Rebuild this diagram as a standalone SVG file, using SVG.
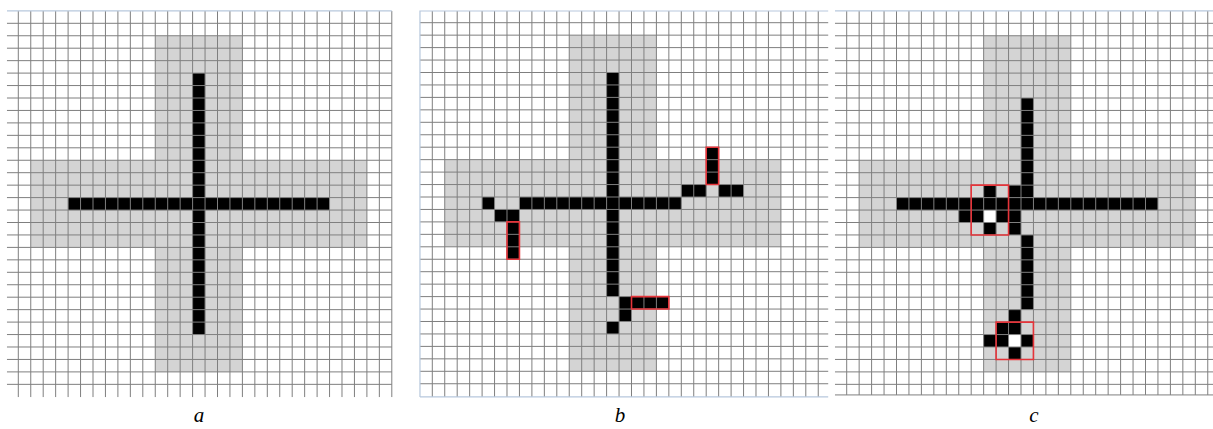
<svg xmlns="http://www.w3.org/2000/svg" width="1213" height="429" viewBox="0 0 1213 429">
<style>
.bg{fill:#ffffff}
.gray{fill:#d4d4d4}
.blk{fill:#000000}
.wht{fill:#ffffff}
.grid{stroke:#7f7f7f;stroke-width:1;fill:none;vector-effect:non-scaling-stroke}
.border{stroke:#b7c8dd;stroke-width:1.2;fill:none;vector-effect:non-scaling-stroke}
.red{stroke:#e5343a;stroke-width:1.6;fill:none;vector-effect:non-scaling-stroke}
.lbl{font-family:"Liberation Serif","Times New Roman",serif;font-style:italic;font-size:21px;fill:#000;text-anchor:middle}
</style>
<rect x="0" y="0" width="1213" height="429" class="bg"/>

<!-- Panel a -->
<g id="panel-a" transform="translate(18.3 23.3) scale(12.45)">
  <rect class="gray" x="11" y="1" width="7" height="27"/>
  <rect class="gray" x="1" y="11" width="27" height="7"/>
  <rect class="blk" x="14" y="4" width="1" height="21"/>
  <rect class="blk" x="4" y="14" width="21" height="1"/>
  <path class="grid" d="M0 -0.99V30.02M1 -0.99V30.02M2 -0.99V30.02M3 -0.99V30.02M4 -0.99V30.02M5 -0.99V30.02M6 -0.99V30.02M7 -0.99V30.02M8 -0.99V30.02M9 -0.99V30.02M10 -0.99V30.02M11 -0.99V30.02M12 -0.99V30.02M13 -0.99V30.02M14 -0.99V30.02M15 -0.99V30.02M16 -0.99V30.02M17 -0.99V30.02M18 -0.99V30.02M19 -0.99V30.02M20 -0.99V30.02M21 -0.99V30.02M22 -0.99V30.02M23 -0.99V30.02M24 -0.99V30.02M25 -0.99V30.02M26 -0.99V30.02M27 -0.99V30.02M28 -0.99V30.02M29 -0.99V30.02M30 -0.99V30.02M-0.91 0H30M-0.91 1H30M-0.91 2H30M-0.91 3H30M-0.91 4H30M-0.91 5H30M-0.91 6H30M-0.91 7H30M-0.91 8H30M-0.91 9H30M-0.91 10H30M-0.91 11H30M-0.91 12H30M-0.91 13H30M-0.91 14H30M-0.91 15H30M-0.91 16H30M-0.91 17H30M-0.91 18H30M-0.91 19H30M-0.91 20H30M-0.91 21H30M-0.91 22H30M-0.91 23H30M-0.91 24H30M-0.91 25H30M-0.91 26H30M-0.91 27H30M-0.91 28H30M-0.91 29H30"/>
  <path class="border" d="M-0.91 -0.99H30"/>
</g>

<!-- Panel b -->
<g id="panel-b" transform="translate(432.3 22.7) scale(12.45)">
  <rect class="gray" x="11" y="1" width="7" height="27"/>
  <rect class="gray" x="1" y="11" width="27" height="7"/>
  <rect class="blk" x="14" y="4" width="1" height="18"/>
  <rect class="blk" x="7" y="14" width="13" height="1"/>
  <rect class="blk" x="4" y="14" width="1" height="1"/>
  <rect class="blk" x="5" y="15" width="2" height="1"/>
  <rect class="blk" x="6" y="16" width="1" height="3"/>
  <rect class="blk" x="20" y="13" width="2" height="1"/>
  <rect class="blk" x="23" y="13" width="2" height="1"/>
  <rect class="blk" x="22" y="10" width="1" height="3"/>
  <rect class="blk" x="15" y="22" width="4" height="1"/>
  <rect class="blk" x="15" y="23" width="1" height="1"/>
  <rect class="blk" x="14" y="24" width="1" height="1"/>
  <path class="grid" d="M0 -0.94V30.06M1 -0.94V30.06M2 -0.94V30.06M3 -0.94V30.06M4 -0.94V30.06M5 -0.94V30.06M6 -0.94V30.06M7 -0.94V30.06M8 -0.94V30.06M9 -0.94V30.06M10 -0.94V30.06M11 -0.94V30.06M12 -0.94V30.06M13 -0.94V30.06M14 -0.94V30.06M15 -0.94V30.06M16 -0.94V30.06M17 -0.94V30.06M18 -0.94V30.06M19 -0.94V30.06M20 -0.94V30.06M21 -0.94V30.06M22 -0.94V30.06M23 -0.94V30.06M24 -0.94V30.06M25 -0.94V30.06M26 -0.94V30.06M27 -0.94V30.06M28 -0.94V30.06M29 -0.94V30.06M30 -0.94V30.06M31 -0.94V30.06M-0.99 0H31.8M-0.99 1H31.8M-0.99 2H31.8M-0.99 3H31.8M-0.99 4H31.8M-0.99 5H31.8M-0.99 6H31.8M-0.99 7H31.8M-0.99 8H31.8M-0.99 9H31.8M-0.99 10H31.8M-0.99 11H31.8M-0.99 12H31.8M-0.99 13H31.8M-0.99 14H31.8M-0.99 15H31.8M-0.99 16H31.8M-0.99 17H31.8M-0.99 18H31.8M-0.99 19H31.8M-0.99 20H31.8M-0.99 21H31.8M-0.99 22H31.8M-0.99 23H31.8M-0.99 24H31.8M-0.99 25H31.8M-0.99 26H31.8M-0.99 27H31.8M-0.99 28H31.8M-0.99 29H31.8"/>
  <path class="border" d="M-0.99 30.06V-0.94H31.8M-0.99 30.06H31.8"/>
  <rect class="red" x="6" y="16" width="1" height="3"/>
  <rect class="red" x="22" y="10" width="1" height="3"/>
  <rect class="red" x="16" y="22" width="3" height="1"/>
</g>

<!-- Panel c -->
<g id="panel-c" transform="translate(846.7 23.3) scale(12.45)">
  <rect class="gray" x="11" y="1" width="7" height="27"/>
  <rect class="gray" x="1" y="11" width="27" height="7"/>
  <rect class="blk" x="14" y="6" width="1" height="8"/>
  <rect class="blk" x="4" y="14" width="21" height="1"/>
  <rect class="blk" x="11" y="13" width="1" height="1"/>
  <rect class="blk" x="13" y="13" width="1" height="1"/>
  <rect class="blk" x="9" y="15" width="2" height="1"/>
  <rect class="wht" x="11" y="15" width="1" height="1"/>
  <rect class="blk" x="12" y="15" width="2" height="1"/>
  <rect class="blk" x="11" y="16" width="1" height="1"/>
  <rect class="blk" x="13" y="16" width="1" height="1"/>
  <rect class="blk" x="14" y="17" width="1" height="6"/>
  <rect class="blk" x="13" y="23" width="1" height="1"/>
  <rect class="blk" x="12" y="24" width="2" height="1"/>
  <rect class="blk" x="11" y="25" width="2" height="1"/>
  <rect class="wht" x="13" y="25" width="1" height="1"/>
  <rect class="blk" x="14" y="25" width="1" height="1"/>
  <rect class="blk" x="13" y="26" width="1" height="1"/>
  <path class="grid" d="M0 -0.99V29.85M1 -0.99V29.85M2 -0.99V29.85M3 -0.99V29.85M4 -0.99V29.85M5 -0.99V29.85M6 -0.99V29.85M7 -0.99V29.85M8 -0.99V29.85M9 -0.99V29.85M10 -0.99V29.85M11 -0.99V29.85M12 -0.99V29.85M13 -0.99V29.85M14 -0.99V29.85M15 -0.99V29.85M16 -0.99V29.85M17 -0.99V29.85M18 -0.99V29.85M19 -0.99V29.85M20 -0.99V29.85M21 -0.99V29.85M22 -0.99V29.85M23 -0.99V29.85M24 -0.99V29.85M25 -0.99V29.85M26 -0.99V29.85M27 -0.99V29.85M28 -0.99V29.85M29 -0.99V29.85M-0.94 0H29.5M-0.94 1H29.5M-0.94 2H29.5M-0.94 3H29.5M-0.94 4H29.5M-0.94 5H29.5M-0.94 6H29.5M-0.94 7H29.5M-0.94 8H29.5M-0.94 9H29.5M-0.94 10H29.5M-0.94 11H29.5M-0.94 12H29.5M-0.94 13H29.5M-0.94 14H29.5M-0.94 15H29.5M-0.94 16H29.5M-0.94 17H29.5M-0.94 18H29.5M-0.94 19H29.5M-0.94 20H29.5M-0.94 21H29.5M-0.94 22H29.5M-0.94 23H29.5M-0.94 24H29.5M-0.94 25H29.5M-0.94 26H29.5M-0.94 27H29.5M-0.94 28H29.5M-0.94 29H29.5M-0.94 29.85H29.5"/>
  <path class="border" d="M-0.94 -0.99H29.5"/>
  <rect class="red" x="10" y="13" width="3" height="4"/>
  <rect class="red" x="12" y="24" width="3" height="3"/>
</g>

<g id="labels">
  <text class="lbl" x="199" y="422">a</text>
  <text class="lbl" x="620" y="422">b</text>
  <text class="lbl" x="1034" y="422">c</text>
</g>
</svg>
